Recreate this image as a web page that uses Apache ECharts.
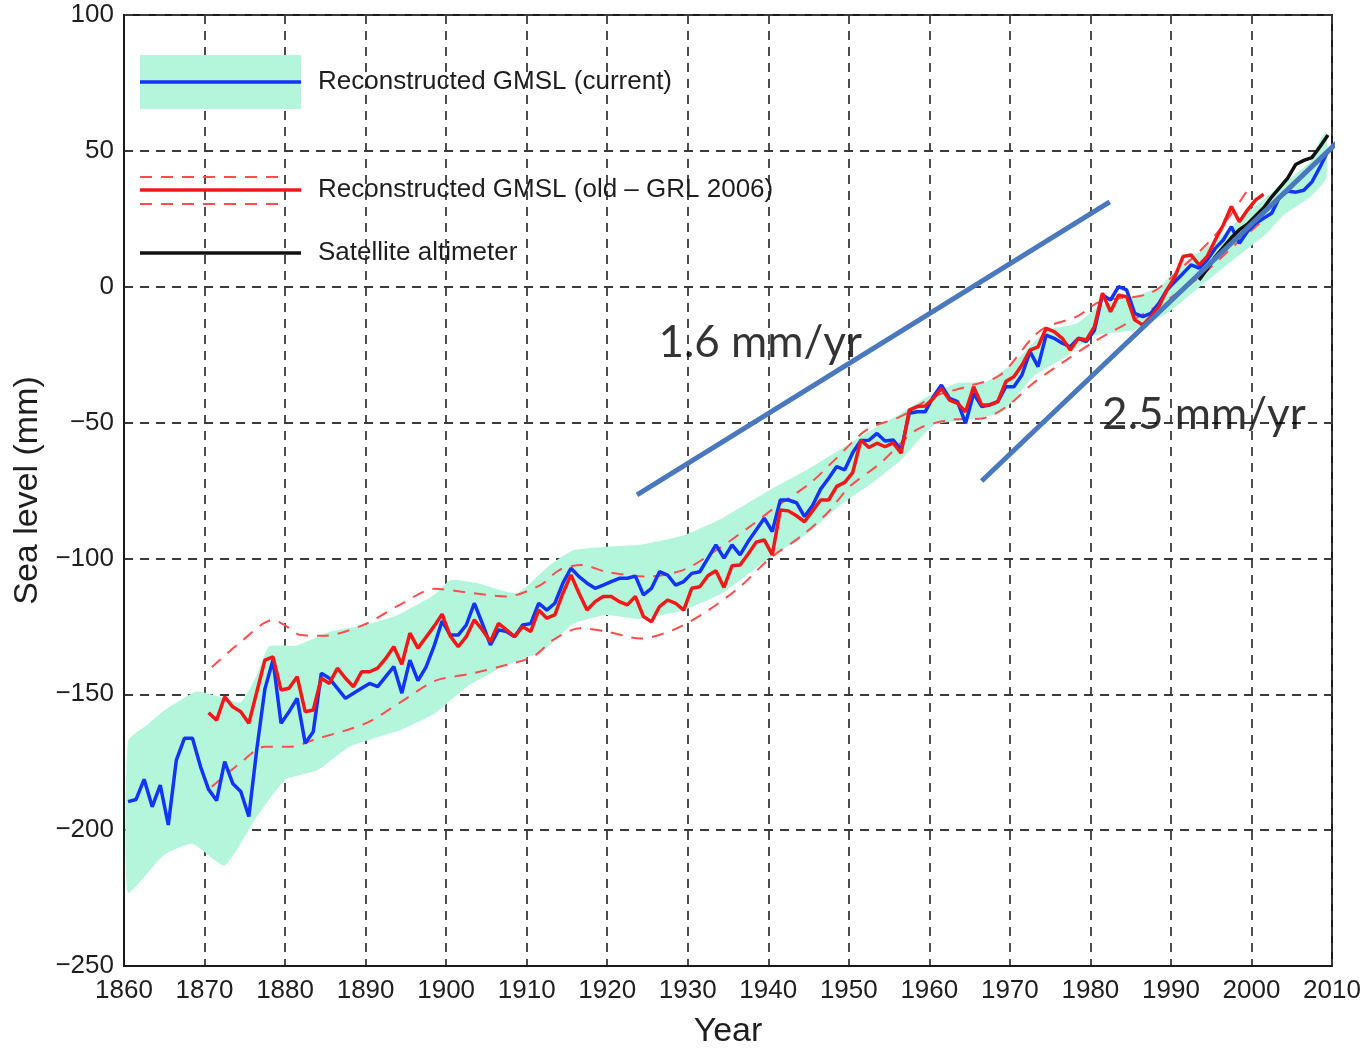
<!DOCTYPE html>
<html>
<head>
<meta charset="utf-8">
<script src="https://cdn.jsdelivr.net/npm/echarts@6/dist/echarts.min.js"></script>
<style>
html,body{margin:0;padding:0;background:#fff;}
#chart{width:1367px;height:1048px;}
</style>
</head>
<body>
<div id="chart"></div>
<script>
// ---- Data ----
const blueStartYear = 1860;
const blueValues = [
-189.5,-188.7,-181.3,-191.4,-183.4,-198.1,-174.2,-166.2,-166.2,-176.6,
-185,-189.1,-174.8,-182.8,-185.8,-195,-170,-148,-137.4,-160.7,
-156.4,-151.5,-168,-163.8,-142.3,-144.1,-147.8,-151.5,-149.6,-147.8,
-146,-147.2,-143.5,-139.8,-149.6,-137.4,-145,-140,-132.3,-123,
-128.2,-128.2,-124.5,-116.5,-124,-131.8,-126.3,-126.9,-128.8,-124.5,
-124,-116.5,-119,-116.5,-109.1,-103.6,-106.7,-109.1,-111,-109.8,
-108.5,-107.3,-107.3,-106.5,-113.4,-111,-104.9,-106.1,-109.8,-108.5,
-105.5,-104.9,-100,-95,-99.9,-95,-98.7,-93.8,-89.5,-85.2,
-90.1,-78.5,-78.5,-79.5,-84.6,-80.5,-74.5,-70.5,-66.2,-67.4,
-61,-56.6,-56.5,-54,-56.8,-56.4,-60.1,-46.6,-46,-46,
-40.5,-36.2,-41.1,-42.3,-50.3,-39.2,-44.1,-43.5,-42.3,-36.8,
-36.8,-32.5,-23.9,-29.4,-17.8,-19,-20.8,-22.1,-19,-20.2,
-16,-3,-4.9,0,-1.2,-9.8,-11,-9.8,-6.1,-1.2,
1.9,4.9,8,6.8,9.8,14.1,17.2,22.1,16,20.3,
23.3,25.2,27,33,35.2,34.8,35.5,38.5,44,50
];
const redStartYear = 1870;
const redValues = [
-156.8,-159.5,-150.9,-154.6,-156.4,-160.7,-149,-137.4,-136.2,-148.4,
-147.8,-143.5,-156.4,-155.8,-144.1,-146,-140.4,-144.1,-147.2,-141.7,
-141.7,-140.4,-136.8,-132.5,-139,-127.5,-133,-129,-125,-120.5,
-128.5,-132.5,-128.8,-122.6,-126.3,-130.6,-123.9,-126.3,-128.8,-125.1,
-126.9,-119,-122,-120.8,-112.8,-106.1,-112.8,-119,-115.9,-114,
-114,-115.9,-117.1,-114,-121.4,-123.3,-117.7,-115.3,-116.5,-119,
-111,-110.4,-106.4,-104.5,-110.7,-102.7,-102.4,-98.4,-94,-93.2,
-98.7,-82.2,-82.5,-84.3,-86.5,-82.5,-78.5,-78.5,-73.5,-72,
-68.3,-56.4,-59.2,-57.6,-58.9,-57.5,-61.3,-45.4,-44.1,-43.9,
-41.1,-37.4,-41.7,-42.9,-46,-36.8,-43.5,-43.5,-42.3,-34.9,
-33.1,-28.8,-23.3,-22.1,-15.3,-16.5,-19,-23.3,-19,-19.6,
-14.7,-2.4,-9.2,-3.1,-3.7,-12.2,-14.1,-11,-7.3,-1.2,
3.7,11.1,11.7,8,11.1,17.2,22.7,29.5,23.9,28.2,
31.9,34.1
];
const satStartYear = 1993;
const satValues = [2.5,6.5,11,14.5,18,21,23,26,29,33,36.5,40,45,46.5,47.5,51.5,55.8];

const redUpperYears = [1870.9,1874.4,1878.5,1880.2,1881.9,1884.8,1889.7,1894.3,1898.6,1902.6,1907.5,1911.7,1914.1,1916.8,1919.9,1924.9,1929.5,1933.6,1937.7,1941,1945.2,1948.5,1952.2,1956.4,1960.5,1964.6,1968.8,1972.9,1974.6,1978.3,1981.2,1987.4,1991.5,1995.7,1999.8];
const redUpper = [-140,-131,-122.7,-125,-128.2,-128.5,-124.5,-117,-111.2,-112.5,-114,-109.8,-104.2,-102.4,-104.9,-106.7,-104.2,-96.9,-88.3,-80.9,-72.3,-63,-52.7,-47.8,-40.5,-36.8,-32.5,-18.4,-14.7,-11,-5.5,-2.4,7.4,19.7,36.8];
const redLowerYears = [1870.9,1874.4,1877.5,1880.8,1883.5,1890,1894.3,1898.7,1902.8,1906.7,1910.8,1913.3,1916.6,1919.9,1924.1,1928.2,1932.3,1936.5,1940.2,1944,1947.3,1950.1,1953.9,1958.4,1962.6,1966.7,1969.6,1972.9,1977,1980.6,1985.3,1989.5,1993.6,1997.7,2001.5];
const redLower = [-184,-175.4,-169.3,-169.3,-166.8,-160.7,-153,-145,-142.6,-139.8,-136.1,-130,-125.7,-126.9,-129.5,-126.3,-119.6,-110.4,-100,-92,-83.4,-73.6,-65,-52.7,-49,-48.4,-44.1,-35.5,-27,-20,-12.2,-4.9,3.7,14.7,24.6];

const bandUpperYears = [1860.5,1863,1865,1869,1872,1874.5,1876.5,1878,1881.5,1885.5,1890,1894,1898.5,1900.5,1903.8,1908.8,1912.9,1915.8,1920,1924.1,1929.5,1934.4,1939.8,1944.8,1948.9,1953,1956,1959.7,1963.4,1967.1,1970.4,1974.6,1978.3,1981.2,1985.3,1988.6,1991.5,1995.7,1999.8,2004,2007.3,2008.5,2009.3];
const bandUpper = [-167,-161,-156,-149,-151,-153,-143,-132.5,-132,-127,-124.5,-120.8,-113.5,-108,-109,-112.8,-102.4,-97,-95.7,-95,-91.5,-85,-75.5,-67.4,-60,-52.5,-47.5,-40.5,-35.5,-35,-28.2,-16,-13.5,-7,-3.7,0,8.6,17.2,28.2,38,46,54,57];
const bandLowerYears = [1860.5,1865,1868.5,1872.5,1876.5,1880,1884,1888,1894.5,1898.6,1902.6,1907,1912.1,1915.8,1919.9,1924.1,1929.5,1934.4,1940,1944.8,1948.9,1953,1956.4,1960.5,1964.6,1968.8,1970.8,1972.9,1977,1980.4,1985.3,1989.5,1993.6,1997.7,2001.9,2004,2007.3,2009.3];
const bandLower = [-223,-209,-205,-213,-195,-181.5,-178,-169.3,-163,-157,-147.2,-140,-133.7,-124,-120.8,-122.3,-119,-112.5,-100,-91,-80.5,-72,-64,-51,-49,-46.6,-40.5,-33,-25.7,-18,-16,-9.8,0,9.8,19.7,26.4,33,40];

const trend1Years = [1923.7, 1982.4];
const trend1Values = [-76.6, 31.2];
const trend2Years = [1966.5, 2012.9];
const trend2Values = [-71.5, 59.5];

const annotYears = [1939, 1994.1];
const annotValues = [-20.7, -47.2];
const annotTexts = ['1.6 mm/yr', '2.5 mm/yr'];

const legendLabels = ['Reconstructed GMSL (current)', 'Reconstructed GMSL (old \u2013 GRL 2006)', 'Satellite altimeter'];
const xAxisTitle = 'Year';
const yAxisTitle = 'Sea level (mm)';

// ---- Build ----
function seriesFrom(start, vals){ return vals.map((v,i)=>[start + i + 0.5, v]); }
function pairs(xs, ys){ return xs.map((x,i)=>[x, ys[i]]); }

const BAND = '#b4f6db';
const BLUE = '#1234f5';
const RED = '#f21818';
const REDD = '#ff4d4d';
const FONT = 'Liberation Sans, Arial, sans-serif';
const TXT = '#1e1e1e';

const chart = echarts.init(document.getElementById('chart'), null, {renderer:'canvas'});
const option = {
  animation:false,
  backgroundColor:'#fff',
  grid:{left:124, right:35, top:15, bottom:82, show:true, borderColor:'#1a1a1a', borderWidth:2,
    backgroundColor:'transparent', containLabel:false, outerBoundsMode:'none'},
  xAxis:{
    type:'value', min:1860, max:2010, interval:10,
    name:xAxisTitle, nameLocation:'middle', nameGap:49,
    nameTextStyle:{fontFamily:FONT, fontSize:34, color:TXT},
    axisLine:{show:true, onZero:false, lineStyle:{color:'#1a1a1a', width:2}},
    axisTick:{show:false},
    axisLabel:{fontFamily:FONT, fontSize:26, color:TXT, margin:12, formatter:v=>String(v)},
    splitLine:{show:true, lineStyle:{color:'#3a3a3a', width:1.8, type:[9,7]}}
  },
  yAxis:{
    type:'value', min:-250, max:100, interval:50,
    name:yAxisTitle, nameLocation:'middle', nameGap:78, nameRotate:90,
    nameTextStyle:{fontFamily:FONT, fontSize:34, color:TXT},
    axisLine:{show:true, onZero:false, lineStyle:{color:'#1a1a1a', width:2}},
    axisTick:{show:false},
    axisLabel:{fontFamily:FONT, fontSize:26, color:TXT, margin:10,
      formatter:v=>String(v).replace('-', '\u2212')},
    splitLine:{show:true, lineStyle:{color:'#3a3a3a', width:1.8, type:[9,7]}}
  },
  series:[
    {
      type:'custom', silent:true, z:1,
      data:[[1860,-100]],
      encode:{x:0, y:1},
      renderItem:function(params, api){
        const pts=[];
        for(let i=0;i<bandUpperYears.length;i++) pts.push(api.coord([bandUpperYears[i], bandUpper[i]]));
        for(let i=bandLowerYears.length-1;i>=0;i--) pts.push(api.coord([bandLowerYears[i], bandLower[i]]));
        return {type:'polygon', shape:{points:pts, smooth:0.15}, style:{fill:BAND}};
      }
    },
    {type:'line', z:3, data:pairs(redUpperYears, redUpper), showSymbol:false, smooth:0.3, silent:true,
      lineStyle:{color:REDD, width:2, type:[12,9]}},
    {type:'line', z:3, data:pairs(redLowerYears, redLower), showSymbol:false, smooth:0.3, silent:true,
      lineStyle:{color:REDD, width:2, type:[12,9]}},
    {type:'line', z:4, data:seriesFrom(blueStartYear, blueValues), showSymbol:false, silent:true,
      lineStyle:{color:BLUE, width:3.5}},
    {type:'line', z:5, data:seriesFrom(redStartYear, redValues), showSymbol:false, silent:true,
      lineStyle:{color:RED, width:3.5}},
    {type:'line', z:6, data:seriesFrom(satStartYear, satValues), showSymbol:false, silent:true,
      lineStyle:{color:'#111', width:3.5}},
    {type:'line', z:8, data:pairs(trend1Years, trend1Values), showSymbol:false, silent:true, clip:false,
      lineStyle:{color:'#4a78bd', width:5}},
    {type:'line', z:8, data:pairs(trend2Years, trend2Values), showSymbol:false, silent:true, clip:false,
      lineStyle:{color:'#4a78bd', width:5}},
    {type:'scatter', z:9, symbolSize:0, silent:true, clip:false,
      itemStyle:{color:'#000'},
      data:annotYears.map((x,i)=>({value:[x, annotValues[i]], name:annotTexts[i]})),
      label:{show:true, position:'inside', formatter:p=>p.name, color:'#000',
        textBorderWidth:0, textBorderColor:'transparent',
        fontFamily:'Lato, Open Sans, sans-serif', fontSize:44}}
  ],
  graphic:[
    {type:'rect', shape:{x:140, y:55, width:161, height:54}, style:{fill:BAND}, z:10},
    {type:'line', shape:{x1:140, y1:82, x2:301, y2:82}, style:{stroke:BLUE, lineWidth:3.5}, z:11},
    {type:'line', shape:{x1:140, y1:177, x2:286, y2:177}, style:{stroke:REDD, lineWidth:2, lineDash:[12,9]}, z:11},
    {type:'line', shape:{x1:140, y1:204, x2:286, y2:204}, style:{stroke:REDD, lineWidth:2, lineDash:[12,9]}, z:11},
    {type:'line', shape:{x1:140, y1:190, x2:301, y2:190}, style:{stroke:RED, lineWidth:3.5}, z:11},
    {type:'line', shape:{x1:140, y1:253, x2:301, y2:253}, style:{stroke:'#111', lineWidth:3.5}, z:11},
    {type:'text', x:318, y:82, style:{text:legendLabels[0], font:'26px '+FONT, fill:TXT, textVerticalAlign:'middle', verticalAlign:'middle'}, z:11},
    {type:'text', x:318, y:190, style:{text:legendLabels[1], font:'26px '+FONT, fill:TXT, textVerticalAlign:'middle', verticalAlign:'middle'}, z:11},
    {type:'text', x:318, y:253, style:{text:legendLabels[2], font:'26px '+FONT, fill:TXT, textVerticalAlign:'middle', verticalAlign:'middle'}, z:11}
  ]
};
chart.setOption(option);
</script>
</body>
</html>
